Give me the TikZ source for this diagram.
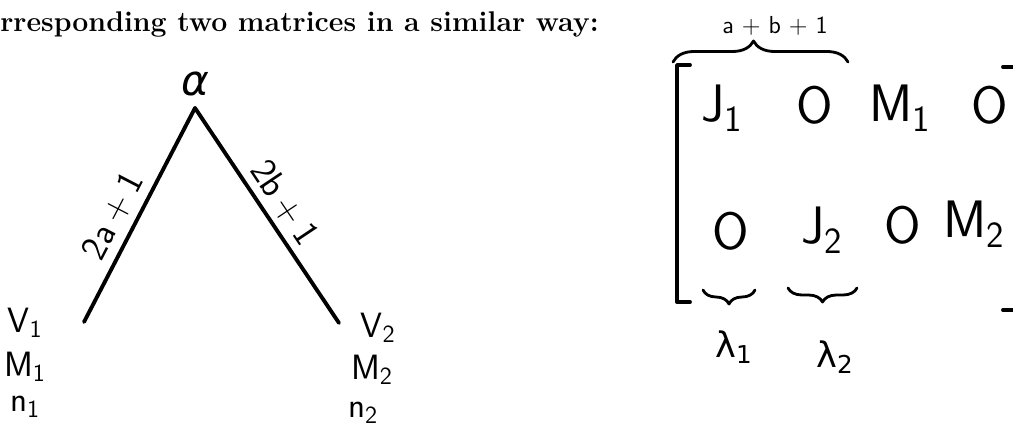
\documentclass[tikz,border=0pt]{standalone}
\usepackage{fontspec}
\newfontfamily\greekhand{DejaVu Sans}
\usetikzlibrary{decorations.pathreplacing}

\tikzset{
  pen/.style={line width=2.2pt, line cap=round, line join=round},
  thinpen/.style={line width=1.6pt, line cap=round, line join=round},
  tlabel/.style={font=\sffamily\fontsize{20}{20}\selectfont, inner sep=0pt},
  elabel/.style={font=\sffamily\fontsize{21}{21}\selectfont, inner sep=0pt},
  entry/.style={font=\sffamily\fontsize{30}{30}\selectfont, inner sep=0pt},
  hbrace/.style={thinpen, decorate, decoration={brace, amplitude=#1}},
  hbrace/.default=0.3cm,
}

\begin{document}
\begin{tikzpicture}[x=0.02cm, y=-0.02cm]

  \clip (0,0) rectangle (1013,432);

  % Heading line (cut at the left edge)
  \node[anchor=base west, inner sep=0pt, font=\bfseries\fontsize{16.2}{18}\selectfont]
    (head) at (0,32) {rresponding two matrices in a similar way:};

  %% ===================== Tree =====================
  \node[inner sep=0pt, font=\greekhand\itshape\fontsize{24}{24}\selectfont] (alpha) at (195,84) {α};
  \coordinate (apex) at (195,108);
  \coordinate (lend) at (84,322);
  \coordinate (rend) at (339,323);

  \draw[pen] (lend) -- (apex) -- (rend);
  % Edge labels, turned along the edges
  \node[elabel, rotate=62.6] (la) at (113,216) {2a\kern4pt+\kern4pt1};
  \node[elabel, rotate=-56.2] (lb) at (285,203) {2b\kern4pt+\kern4pt1};

  % Leaf data
  \node[tlabel] (v1) at (25,323) {V\textsubscript{1}};
  \node[tlabel] (m1) at (25,367) {M\textsubscript{1}};
  \node[tlabel] (n1) at (25,407) {n\textsubscript{1}};
  \node[tlabel] (v2) at (378,328) {V\textsubscript{2}};
  \node[tlabel] (m2) at (372,370) {M\textsubscript{2}};
  \node[tlabel] (n2) at (363,413) {n\textsubscript{2}};

  %% ===================== Matrix =====================
  % Brackets
  \draw[pen] (690,65) -- (677,65) -- (677,302) -- (690,302);
  \draw[pen] (1003,67) -- (1018,67) -- (1018,310) -- (1003,310);

  % Row 1
  \node[entry] (j1) at (722,108) {J\textsubscript{1}};
  \node[entry] (o12) at (815,105) {O};
  \node[entry] (m11) at (900,108) {M\textsubscript{1}};
  \node[entry] (o14) at (990,105) {O};
  % Row 2
  \node[entry] (o21) at (731,231) {O};
  \node[entry] (j2) at (822,230) {J\textsubscript{2}};
  \node[entry] (o23) at (903,225) {O};
  \node[entry] (m22) at (974,224) {M\textsubscript{2}};

  % Top brace
  \draw[hbrace=0.42cm, decoration={aspect=0.46}] (673,62) -- (848,62);
  \node[font=\sffamily\fontsize{14}{14}\selectfont, inner sep=0pt] (abl) at (775,26) {a + b + 1};

  % Bottom braces
  \draw[hbrace=0.28cm] (755,290) -- (703,290);
  \draw[hbrace=0.28cm] (857,288) -- (788,288);
  \node[inner sep=0pt, font=\greekhand\fontsize{20}{20}\selectfont] (l1) at (734,347) {λ\textsubscript{1}};
  \node[inner sep=0pt, font=\greekhand\fontsize{20}{20}\selectfont] (l2) at (835,357) {λ\textsubscript{2}};

\end{tikzpicture}
\end{document}
